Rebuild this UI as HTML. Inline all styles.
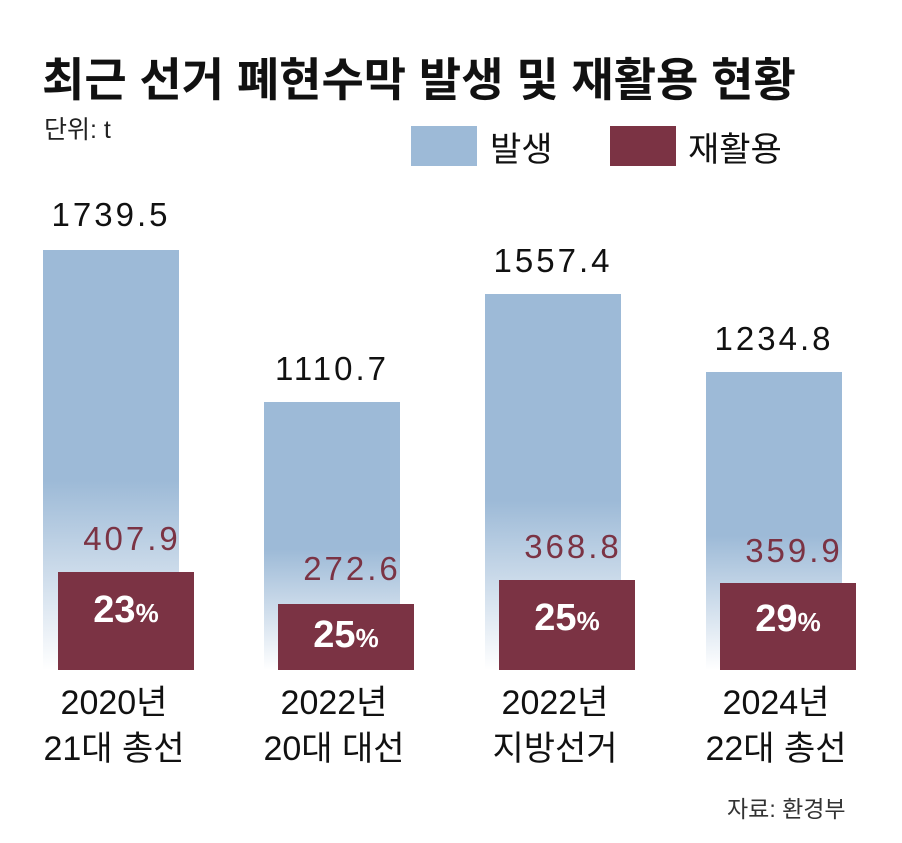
<!DOCTYPE html>
<html><head><meta charset="utf-8"><style>
body{margin:0;width:902px;height:843px;background:#fff;position:relative;overflow:hidden;font-family:"Liberation Sans","Noto Sans CJK KR",sans-serif;}
.a{position:absolute;white-space:nowrap}
.b{position:absolute;width:136px;background:linear-gradient(to bottom,#9dbad7 0%,#9dbad7 55%,#ffffff 100%)}
.r{position:absolute;width:136px;background:#7b3344;color:#fff;font-weight:bold;font-size:38px;text-align:center;}
.v{position:absolute;font-size:33px;color:#111;width:180px;text-align:center;letter-spacing:3px}
.rv{position:absolute;font-size:33px;color:#7b3344;width:180px;text-align:center;letter-spacing:3px}
.x{position:absolute;font-size:34px;color:#111;width:200px;text-align:center;line-height:46px}
</style></head><body>
<div class="a" style="left:42px;top:44px;font-size:46px;font-weight:bold;color:#111">최근 선거 폐현수막 발생 및 재활용 현황</div>
<div class="a" style="left:44px;top:110px;font-size:25px;color:#222">단위: t</div>
<div class="a" style="left:411px;top:126px;width:66px;height:40px;background:#9dbad7"></div>
<div class="a" style="left:490px;top:122px;font-size:34px;color:#111">발생</div>
<div class="a" style="left:610px;top:126px;width:66px;height:40px;background:#7b3344"></div>
<div class="a" style="left:688px;top:122px;font-size:34px;color:#111">재활용</div>

<div class="b" style="left:43px;top:250px;height:420px"></div>
<div class="b" style="left:264px;top:402px;height:268px"></div>
<div class="b" style="left:485px;top:294px;height:376px"></div>
<div class="b" style="left:706px;top:372px;height:298px"></div>

<div class="v" style="left:21px;top:196px">1739.5</div>
<div class="v" style="left:242px;top:350px">1110.7</div>
<div class="v" style="left:463px;top:242px">1557.4</div>
<div class="v" style="left:684px;top:320px">1234.8</div>

<div class="rv" style="left:42px;top:520px">407.9</div>
<div class="rv" style="left:262px;top:550px">272.6</div>
<div class="rv" style="left:483px;top:528px">368.8</div>
<div class="rv" style="left:704px;top:532px">359.9</div>

<div class="r" style="left:58px;top:572px;height:98px;line-height:76px">23<span style="font-size:26px">%</span></div>
<div class="r" style="left:278px;top:604px;height:66px;line-height:62px">25<span style="font-size:26px">%</span></div>
<div class="r" style="left:499px;top:580px;height:90px;line-height:76px">25<span style="font-size:26px">%</span></div>
<div class="r" style="left:720px;top:583px;height:87px;line-height:72px">29<span style="font-size:26px">%</span></div>

<div class="x" style="left:14px;top:680px">2020년<br>21대 총선</div>
<div class="x" style="left:234px;top:680px">2022년<br>20대 대선</div>
<div class="x" style="left:455px;top:680px">2022년<br>지방선거</div>
<div class="x" style="left:676px;top:680px">2024년<br>22대 총선</div>

<div class="a" style="left:727px;top:790px;font-size:23px;color:#333">자료: 환경부</div>
</body></html>
